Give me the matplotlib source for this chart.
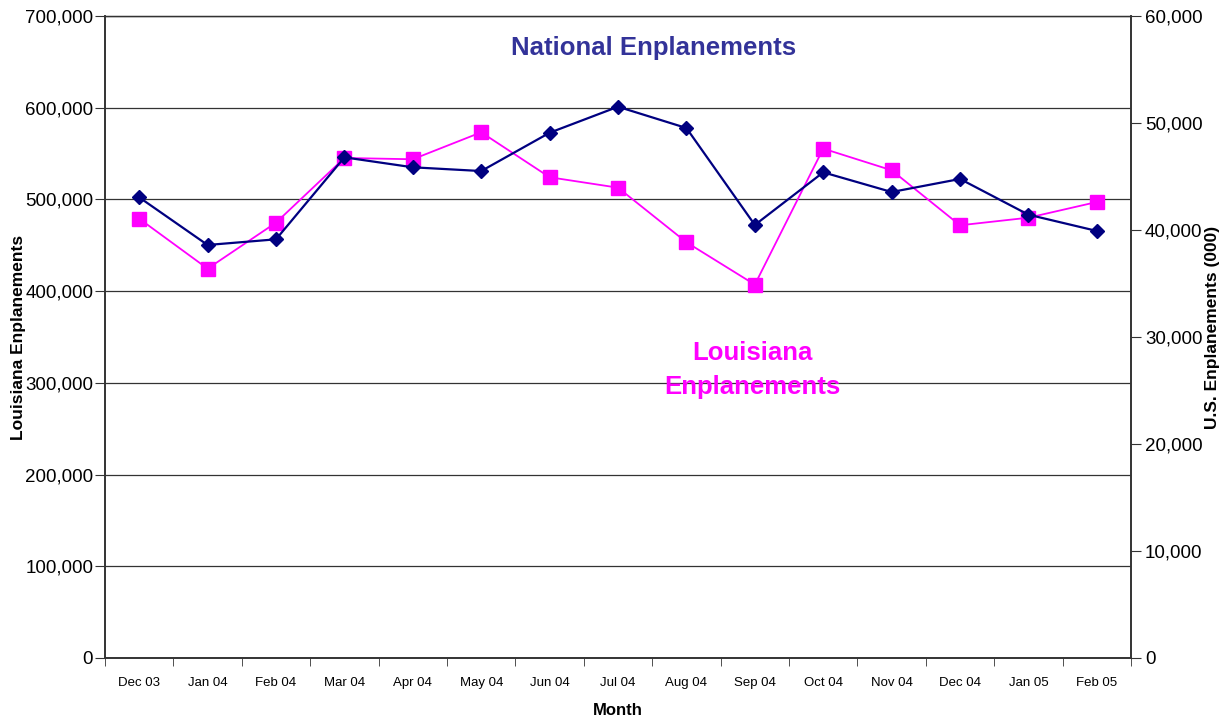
import matplotlib.pyplot as plt
from matplotlib.ticker import FuncFormatter, MultipleLocator, FixedLocator

plt.rcParams['font.family'] = ['Liberation Sans', 'DejaVu Sans']

months = ['Dec 03', 'Jan 04', 'Feb 04', 'Mar 04', 'Apr 04', 'May 04', 'Jun 04', 'Jul 04',
          'Aug 04', 'Sep 04', 'Oct 04', 'Nov 04', 'Dec 04', 'Jan 05', 'Feb 05']

# Louisiana enplanements (left axis)
louisiana = [479000, 424500, 474700, 545200, 543800, 573200, 524200, 512800,
             453300, 407100, 555400, 531800, 471800, 480100, 497200]

# U.S. enplanements in thousands (right axis)
national = [43050, 38600, 39130, 46790, 45860, 45510, 49090, 51520,
            49530, 40470, 45390, 43550, 44770, 41430, 39910]

fig = plt.figure(figsize=(12.31, 7.21), dpi=100)
ax = fig.add_axes([0.0853, 0.0874, 0.8335, 0.8904])
ax2 = ax.twinx()

x = list(range(len(months)))
ax.plot(x, louisiana, color='#FF00FF', lw=1.3, marker='s', ms=10, mec='#FF00FF', zorder=3)
ax2.plot(x, national, color='#000080', lw=1.6, marker='D', ms=6.8, zorder=3)

ax.set_xlim(-0.5, len(months) - 0.5)
ax.set_ylim(0, 700000)
ax2.set_ylim(0, 60000)

ax.yaxis.set_major_locator(MultipleLocator(100000))
ax2.yaxis.set_major_locator(MultipleLocator(10000))
fmt = FuncFormatter(lambda v, p: f'{int(v):,}')
ax.yaxis.set_major_formatter(fmt)
ax2.yaxis.set_major_formatter(fmt)

ax.set_xticks(x)
ax.set_xticklabels(months, fontsize=9.5)
ax.xaxis.set_minor_locator(FixedLocator([i - 0.5 for i in range(len(months) + 1)]))
ax.tick_params(axis='x', which='major', length=0, pad=14)
ax.tick_params(axis='x', which='minor', length=6, color='#333333')
ax.tick_params(axis='y', length=7, labelsize=13.5, color='#333333', pad=1.5)
ax2.tick_params(axis='y', length=7, labelsize=13.5, color='#333333', pad=3)

ax.grid(axis='y', color='#333333', lw=0.9)
ax.set_axisbelow(True)

for a in (ax, ax2):
    for s in a.spines.values():
        s.set_color('#333333')
        s.set_linewidth(1.2)
    a.spines['top'].set_linewidth(0.9)

ax.set_ylabel('Louisiana Enplanements', fontsize=12.5, fontweight='bold')
ax.yaxis.set_label_coords(-0.077, 0.5)
ax2.set_ylabel('U.S. Enplanements (000)', fontsize=12.5, fontweight='bold')
ax2.yaxis.set_label_coords(1.0721, 0.5156)
ax.set_xlabel('Month', fontsize=12, fontweight='bold', labelpad=10)

ax.text(7.52, 665000, 'National Enplanements', color='#333399', fontsize=18.5,
        fontweight='bold', ha='center', va='center')
ax.text(8.97, 314000, 'Louisiana\nEnplanements', color='#FF00FF', fontsize=18.5,
        fontweight='bold', ha='center', va='center', linespacing=1.5)

fig.savefig('out.png', dpi=100)
